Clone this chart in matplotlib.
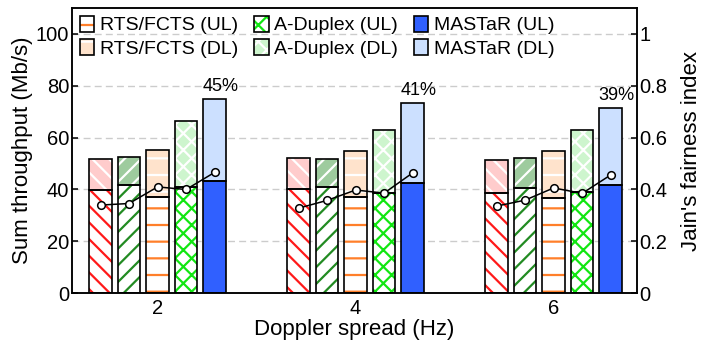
import matplotlib
matplotlib.use("Agg")
import matplotlib.pyplot as plt
from matplotlib.patches import Patch
from matplotlib.legend_handler import HandlerTuple
import numpy as np

plt.rcParams['font.family'] = ['Liberation Sans', 'DejaVu Sans']
plt.rcParams['hatch.linewidth'] = 1.6

# Doppler spread categories
doppler = ["2", "4", "6"]

# Sum throughput (Mb/s): uplink part and total (UL + DL) per scheme
rts_red_ul = [39.7, 40.0, 38.6]
rts_red_total = [51.7, 52.0, 51.3]
rts_green_ul = [41.9, 40.9, 40.4]
rts_green_total = [52.5, 51.9, 52.2]
rts_ul = [37.3, 37.2, 36.8]
rts_total = [55.2, 54.7, 54.7]
aduplex_ul = [40.9, 38.8, 39.1]
aduplex_total = [66.4, 62.8, 62.8]
mastar_ul = [43.3, 42.4, 41.9]
mastar_total = [74.9, 73.2, 71.3]

# Jain's fairness index per scheme (same order as the bars)
jain = [
    [0.340, 0.346, 0.410, 0.400, 0.466],
    [0.328, 0.358, 0.398, 0.386, 0.464],
    [0.336, 0.359, 0.406, 0.385, 0.456],
]

gain_labels = ["45%", "41%", "39%"]

# Styles: (hatch, hatch colour UL, DL fill)
styles = [
    ("\\\\", "#ff1a1a", "#ffcccc"),
    ("//", "#228b22", "#9ecb9e"),
    ("-", "#ff7f2a", "#ffe3cc"),
    ("xx", "#11e611", "#cdf5cd"),
    (None, "#3060ff", "#cce0ff"),
]

ul_series = [rts_red_ul, rts_green_ul, rts_ul, aduplex_ul, mastar_ul]
tot_series = [rts_red_total, rts_green_total, rts_total, aduplex_total, mastar_total]

fig = plt.figure(figsize=(7.06, 3.45), dpi=100)
ax = fig.add_axes([0.102, 0.150, 0.800, 0.827])

x = np.arange(len(doppler))
step = 0.144
width = 0.114
offsets = (np.arange(5) - 2) * step

for i, (hatch, hcol, dlfill) in enumerate(styles):
    xs = x + offsets[i]
    ul = np.array(ul_series[i])
    tot = np.array(tot_series[i])
    dl = tot - ul
    if hatch is None:
        ax.bar(xs, ul, width, color=hcol, linewidth=0, zorder=2)
        ax.bar(xs, dl, width, bottom=ul, color=dlfill, linewidth=0, zorder=2)
    else:
        ax.bar(xs, ul, width, facecolor="white", edgecolor=hcol, hatch=hatch,
               linewidth=0, zorder=2)
        ax.bar(xs, dl, width, bottom=ul, facecolor=dlfill, edgecolor="white",
               hatch=hatch, linewidth=0, zorder=2)
    ax.bar(xs, ul, width, facecolor="none", edgecolor="black", linewidth=1.2, zorder=3)
    ax.bar(xs, dl, width, bottom=ul, facecolor="none", edgecolor="black",
           linewidth=1.2, zorder=3)

for g in range(len(doppler)):
    ax.annotate(gain_labels[g], (x[g] + offsets[4], mastar_total[g]),
                xytext=(4, 3), textcoords="offset points",
                ha="center", va="bottom", fontsize=13)

ax.set_xlim(-0.432, 2.42)
ax.set_ylim(0, 110)
ax.set_yticks([0, 20, 40, 60, 80, 100])
ax.set_xticks(x)
ax.set_xticklabels(doppler)
ax.yaxis.grid(True, linestyle=(0, (5, 3)), color="#cccccc", linewidth=1.0, zorder=0)
ax.set_axisbelow(True)
ax.tick_params(axis="y", direction="in", length=4, width=1.1, labelsize=14.5, pad=2)
ax.tick_params(axis="x", direction="in", length=0, labelsize=14.5, pad=4)
ax.set_ylabel("Sum throughput (Mb/s)", fontsize=16, labelpad=2)
ax.set_xlabel("Doppler spread (Hz)", fontsize=16, labelpad=1)
for s in ax.spines.values():
    s.set_linewidth(1.1)

ax2 = ax.twinx()
for g in range(len(doppler)):
    ax2.plot(x[g] + offsets, jain[g], color="black", linewidth=1.1, marker="o",
             markersize=5.5, markerfacecolor="white", markeredgecolor="black",
             markeredgewidth=1.1, zorder=5)
ax2.set_ylim(0, 1.1)
ax2.set_yticks([0, 0.2, 0.4, 0.6, 0.8, 1.0])
ax2.set_yticklabels(["0", "0.2", "0.4", "0.6", "0.8", "1"])
ax2.tick_params(axis="y", direction="in", length=4, width=1.1, labelsize=14.5, pad=2)
ax2.set_ylabel("Jain's fairness index", fontsize=16, labelpad=10)
for s in ax2.spines.values():
    s.set_linewidth(1.1)


def handle(hatch, hcol, face):
    if hatch is None:
        inner = Patch(facecolor=face, linewidth=0)
    else:
        inner = Patch(facecolor=face, edgecolor=hcol, hatch=hatch, linewidth=0)
    outline = Patch(facecolor="none", edgecolor="black", linewidth=1.2)
    return (inner, outline)


handles = [
    handle("-", "#ff7f2a", "white"),
    handle("-", "white", "#ffe3cc"),
    handle("xx", "#11e611", "white"),
    handle("xx", "white", "#cdf5cd"),
    handle(None, None, "#3060ff"),
    handle(None, None, "#cce0ff"),
]
labels = ["RTS/FCTS (UL)", "RTS/FCTS (DL)", "A-Duplex (UL)", "A-Duplex (DL)",
          "MASTaR (UL)", "MASTaR (DL)"]
ax.legend(handles, labels, ncol=3, loc="upper left", bbox_to_anchor=(0.0, 1.0),
          frameon=False, fontsize=14, handlelength=0.75, handleheight=0.9,
          handletextpad=0.3, columnspacing=0.8, labelspacing=0.25,
          borderaxespad=0.1, borderpad=0.3,
          handler_map={tuple: HandlerTuple(ndivide=1, pad=0)})

fig.savefig("out.png", dpi=100)
